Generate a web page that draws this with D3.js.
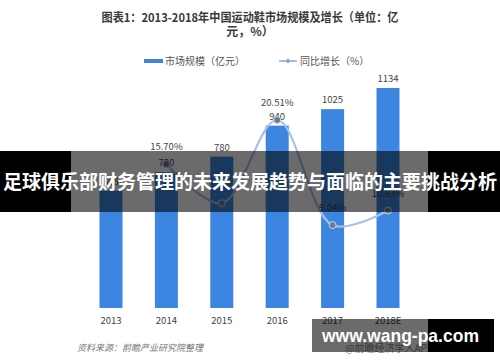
<!DOCTYPE html>
<html>
<head>
<meta charset="utf-8">
<script src="https://cdn.jsdelivr.net/npm/d3@7"></script>
<style>
  html, body { margin: 0; padding: 0; background: #fff; }
  svg { display: block; font-family: "Noto Sans CJK SC", "Noto Sans", sans-serif; }
</style>
</head>
<body>
<div id="chart"></div>
<script>
// Data
const years = ['2013', '2014', '2015', '2016', '2017', '2018E'];
const marketSize = [605, 700, 780, 940, 1025, 1134];          // 亿元
const growth = [null, 15.70, 11.43, 20.51, 9.04, 10.63];      // %
const growthLabels = ['', '15.70%', '', '20.51%', '9.04%', '10.63%'];

const width = 500, height = 362;

const svg = d3.select('#chart')
    .append('svg')
    .attr('width', width)
    .attr('height', height);

// Title
const title = svg.append('text')
    .attr('text-anchor', 'middle')
    .style('font-size', '12px')
    .style('font-weight', 'bold')
    .style('fill', '#3a3a3a');
title.append('tspan').attr('x', 250).attr('y', 22)
    .attr('textLength', 297).attr('lengthAdjust', 'spacingAndGlyphs')
    .text('图表1：2013-2018年中国运动鞋市场规模及增长（单位：亿');
title.append('tspan').attr('x', 250).attr('y', 36).text('元，%）');

// Legend
const legend = svg.append('g').style('font-size', '10px').style('fill', '#555');
legend.append('rect').attr('x', 144).attr('y', 59).attr('width', 19).attr('height', 4).attr('fill', '#3c85e0');
legend.append('text').attr('x', 165).attr('y', 65).text('市场规模（亿元）');
legend.append('line').attr('x1', 279).attr('x2', 297).attr('y1', 61).attr('y2', 61)
    .attr('stroke', '#a7c1e6').attr('stroke-width', 2);
legend.append('circle').attr('cx', 288).attr('cy', 61).attr('r', 2).attr('fill', '#8fa3bd');
legend.append('text').attr('x', 300).attr('y', 65).text('同比增长（%）');

// Scales
const x = d3.scalePoint()
    .domain(years)
    .range([83.3, 415.7])
    .padding(0.5);
const barWidth = 23;

const yBar = d3.scaleLinear()
    .domain([0, 1134])
    .range([308, 88]);

const yGrowth = d3.scaleLinear()
    .domain([0, 24])
    .range([308, 88]);

// Bars
svg.selectAll('.bar')
    .data(marketSize)
    .enter()
    .append('rect')
    .attr('class', 'bar')
    .attr('x', (d, i) => x(years[i]) - barWidth / 2)
    .attr('y', d => yBar(d))
    .attr('width', barWidth)
    .attr('height', d => yBar(0) - yBar(d))
    .attr('fill', '#3c85e0');

// Bar value labels
svg.selectAll('.bar-label')
    .data(marketSize)
    .enter()
    .append('text')
    .attr('class', 'bar-label')
    .attr('x', (d, i) => x(years[i]))
    .attr('y', d => yBar(d) - 6)
    .attr('text-anchor', 'middle')
    .style('font-size', '9.5px')
    .style('fill', '#444')
    .text(d => d);

// Year labels
svg.selectAll('.year')
    .data(years)
    .enter()
    .append('text')
    .attr('class', 'year')
    .attr('x', d => x(d))
    .attr('y', 324)
    .attr('text-anchor', 'middle')
    .style('font-size', '9.5px')
    .style('fill', '#444')
    .text(d => d);

// Growth line
const growthPts = years.map((yr, i) => ({ yr, g: growth[i], label: growthLabels[i] }))
    .filter(d => d.g !== null);

const line = d3.line()
    .x(d => x(d.yr))
    .y(d => yGrowth(d.g))
    .curve(d3.curveCatmullRom.alpha(0.5));

svg.append('path')
    .datum(growthPts)
    .attr('fill', 'none')
    .attr('stroke', '#a7c1e6')
    .attr('stroke-width', 2.2)
    .attr('d', line);

svg.selectAll('.dot')
    .data(growthPts)
    .enter()
    .append('circle')
    .attr('class', 'dot')
    .attr('cx', d => x(d.yr))
    .attr('cy', d => yGrowth(d.g))
    .attr('r', 3.5)
    .attr('fill', '#6f7c8c')
    .attr('stroke', '#c9d6e8')
    .attr('stroke-width', 1);

svg.selectAll('.g-label')
    .data(growthPts)
    .enter()
    .append('text')
    .attr('class', 'g-label')
    .attr('x', d => x(d.yr))
    .attr('y', d => yGrowth(d.g) - 14)
    .attr('text-anchor', 'middle')
    .style('font-size', '9.5px')
    .style('fill', '#444')
    .text(d => d.label);

// Source note
svg.append('text')
    .attr('x', 77)
    .attr('y', 351)
    .style('font-size', '9px')
    .style('font-style', 'italic')
    .style('fill', '#777')
    .text('资料来源：前瞻产业研究院整理');

svg.append('text')
    .attr('x', 345)
    .attr('y', 352)
    .style('font-size', '10px')
    .style('fill', '#888')
    .text('@前瞻经济学人APP');

// Headline banner over the chart
const banner = svg.append('g');
banner.append('rect').attr('x', 0).attr('y', 151).attr('width', 71).attr('height', 61).attr('fill', '#000');
banner.append('rect').attr('x', 428).attr('y', 151).attr('width', 72).attr('height', 61).attr('fill', '#000');
banner.append('rect').attr('x', 71).attr('y', 151).attr('width', 357).attr('height', 61)
    .attr('fill', '#000').attr('fill-opacity', 0.58);
banner.append('text')
    .attr('x', 250)
    .attr('y', 189)
    .attr('text-anchor', 'middle')
    .style('font-size', '19px')
    .style('font-weight', 'bold')
    .style('fill', '#fff')
    .text('足球俱乐部财务管理的未来发展趋势与面临的主要挑战分析');

// Site stamp bottom right
const stamp = svg.append('g');
stamp.append('rect').attr('x', 312).attr('y', 319).attr('width', 116).attr('height', 33)
    .attr('fill', '#000').attr('fill-opacity', 0.58);
stamp.append('rect').attr('x', 428).attr('y', 319).attr('width', 66).attr('height', 33).attr('fill', '#000');
stamp.append('text')
    .attr('x', 322)
    .attr('y', 342)
    .attr('textLength', 157)
    .attr('lengthAdjust', 'spacingAndGlyphs')
    .style('font-size', '19px')
    .style('font-weight', 'bold')
    .style('font-family', '"Liberation Sans", Arial, sans-serif')
    .style('fill', '#fff')
    .text('www.wang-pa.com');
</script>
</body>
</html>
